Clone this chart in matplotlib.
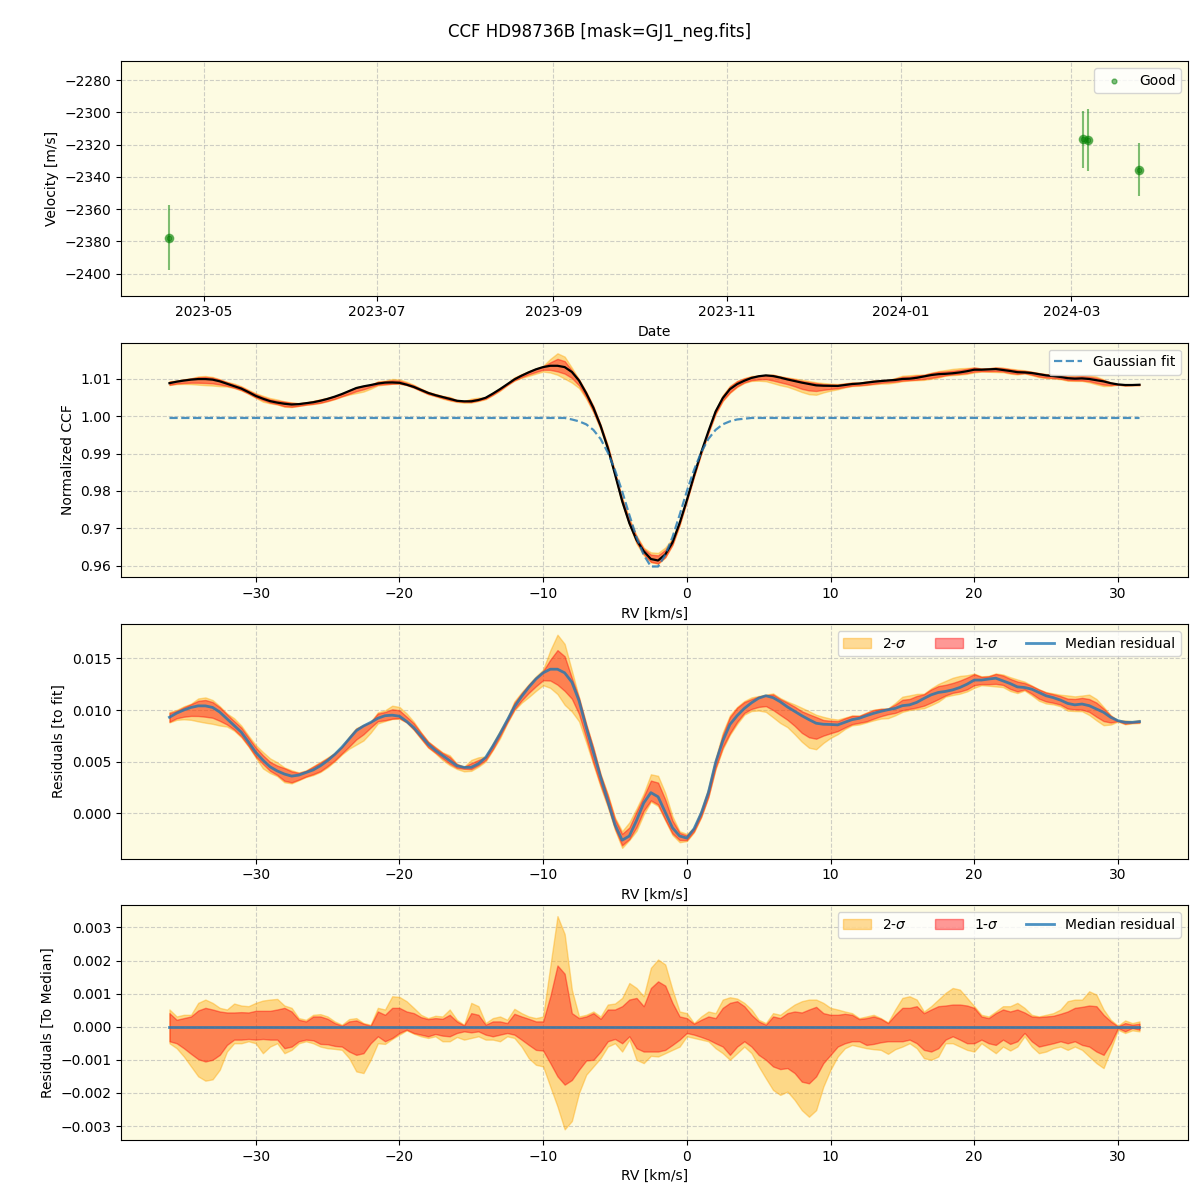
import numpy as np
import matplotlib
matplotlib.use('Agg')
import matplotlib.pyplot as plt
import matplotlib.dates as mdates
from datetime import datetime

# --- RV time series ---
obs_dates = ['2023-04-19', '2024-03-05', '2024-03-07', '2024-03-25']
obs_rv = [-2377.6, -2316.7, -2317.0, -2335.5]
obs_err = [19.9, 17.8, 19.4, 16.3]

# --- CCF grid (km/s) ---
rv_grid = np.arange(-36.0, 31.75, 0.5)

# gaussian fit
gauss_fit = ([0.9995] * 56 +
             [0.9991, 0.9986, 0.9978, 0.9963, 0.9939, 0.9903, 0.9856, 0.9799,
              0.9736, 0.9676, 0.9629, 0.9598, 0.9598, 0.9629, 0.9676, 0.9736,
              0.9799, 0.9856, 0.9903, 0.9939, 0.9963, 0.9978, 0.9986, 0.9991,
              0.9993] +
             [0.9995] * 55)

# median residual to fit (x1e-3)
res_median = [
    9.3, 9.7, 10.0, 10.25, 10.4, 10.4, 10.25, 9.8, 9.15, 8.5,
    7.85, 6.9, 5.9, 5.15, 4.5, 4.1, 3.8, 3.6, 3.7, 3.95,
    4.2, 4.6, 5.1, 5.7, 6.4, 7.2, 8.0, 8.45, 8.8, 9.2,
    9.45, 9.5, 9.4, 8.9, 8.3, 7.5, 6.7, 6.1, 5.6, 5.1,
    4.6, 4.45, 4.45, 4.8, 5.4, 6.5, 7.7, 9.0, 10.3, 11.3,
    12.2, 13.0, 13.6, 13.95, 13.95, 13.6, 12.7, 10.9, 8.3, 5.9,
    3.5, 1.2, -1.1, -2.6, -2.2, -0.7, 1.0, 2.0, 1.6, 0.1,
    -1.4, -2.2, -2.4, -1.5, 0.0, 2.0, 4.9, 7.0, 8.6, 9.45,
    10.15, 10.7, 11.15, 11.38, 11.2, 10.8, 10.3, 9.87, 9.45, 9.07,
    8.72, 8.62, 8.6, 8.56, 8.81, 9.07, 9.2, 9.45, 9.68, 9.87,
    10.03, 10.16, 10.42, 10.5, 10.74, 11.12, 11.47, 11.7, 11.8, 11.95,
    12.18, 12.5, 12.9, 12.9, 13.0, 13.08, 12.82, 12.56, 12.24, 12.18,
    12.02, 11.7, 11.38, 11.2, 10.96, 10.64, 10.5, 10.58, 10.42, 10.1,
    9.78, 9.29, 8.97, 8.81, 8.81, 8.88]

# spread around the median (x1e-3)
hi2 = [
    0.52, 0.31, 0.36, 0.36, 0.72, 0.82, 0.72, 0.57, 0.52, 0.70,
    0.64, 0.62, 0.72, 0.79, 0.82, 0.84, 0.64, 0.57, 0.26, 0.21,
    0.36, 0.38, 0.31, 0.16, 0.06, 0.23, 0.26, 0.11, 0.06, 0.57,
    0.52, 0.92, 0.90, 0.77, 0.57, 0.36, 0.26, 0.33, 0.31, 0.52,
    0.21, 0.06, 0.72, 0.62, 0.11, 0.26, 0.31, 0.21, 0.54, 0.41,
    0.31, 0.26, 0.31, 1.83, 3.34, 2.80, 1.12, 0.31, 0.36, 0.46,
    0.31, 0.67, 0.70, 0.87, 1.32, 1.17, 0.92, 1.78, 2.03, 1.88,
    1.12, 0.46, 0.41, 0.11, 0.31, 0.46, 0.41, 0.82, 0.89, 0.85,
    0.72, 0.52, 0.21, 0.11, 0.41, 0.36, 0.52, 0.67, 0.77, 0.82,
    0.82, 0.72, 0.57, 0.52, 0.46, 0.41, 0.26, 0.31, 0.36, 0.26,
    0.13, 0.52, 0.87, 0.92, 0.82, 0.46, 0.62, 0.82, 1.02, 1.17,
    1.12, 0.87, 0.62, 0.36, 0.31, 0.46, 0.62, 0.62, 0.72, 0.57,
    0.36, 0.31, 0.36, 0.41, 0.52, 0.77, 0.82, 0.82, 1.07, 0.97,
    0.52, 0.21, 0.03, 0.19, 0.11, 0.16]
hi1 = [
    0.41, 0.21, 0.26, 0.31, 0.49, 0.57, 0.52, 0.46, 0.43, 0.43,
    0.44, 0.43, 0.48, 0.48, 0.48, 0.52, 0.57, 0.46, 0.21, 0.16,
    0.31, 0.31, 0.24, 0.11, 0.03, 0.16, 0.19, 0.09, 0.03, 0.46,
    0.36, 0.57, 0.57, 0.46, 0.41, 0.29, 0.23, 0.26, 0.24, 0.36,
    0.16, 0.04, 0.41, 0.36, 0.06, 0.16, 0.16, 0.11, 0.39, 0.31,
    0.24, 0.16, 0.16, 0.92, 1.85, 1.60, 0.41, 0.26, 0.31, 0.41,
    0.24, 0.52, 0.52, 0.62, 0.82, 0.87, 0.62, 1.17, 1.37, 1.24,
    0.72, 0.31, 0.26, 0.09, 0.21, 0.31, 0.26, 0.57, 0.72, 0.77,
    0.62, 0.36, 0.16, 0.06, 0.31, 0.26, 0.41, 0.46, 0.43, 0.52,
    0.60, 0.41, 0.36, 0.36, 0.39, 0.36, 0.23, 0.26, 0.31, 0.24,
    0.11, 0.36, 0.57, 0.57, 0.62, 0.41, 0.52, 0.62, 0.64, 0.67,
    0.67, 0.64, 0.57, 0.31, 0.26, 0.41, 0.52, 0.46, 0.52, 0.43,
    0.31, 0.29, 0.31, 0.33, 0.39, 0.46, 0.57, 0.60, 0.64, 0.62,
    0.36, 0.16, 0.01, 0.11, 0.06, 0.09]
lo1 = [
    -0.44, -0.50, -0.65, -0.82, -0.98, -1.05, -1.00, -0.85, -0.55, -0.39,
    -0.39, -0.37, -0.39, -0.37, -0.39, -0.39, -0.65, -0.60, -0.44, -0.39,
    -0.41, -0.52, -0.53, -0.58, -0.60, -0.75, -0.85, -0.80, -0.50, -0.29,
    -0.44, -0.34, -0.19, -0.09, -0.19, -0.24, -0.29, -0.22, -0.27, -0.29,
    -0.19, -0.14, -0.17, -0.14, -0.24, -0.29, -0.24, -0.19, -0.24, -0.39,
    -0.55, -0.70, -0.72, -1.10, -1.50, -1.75, -1.61, -1.30, -1.02, -1.00,
    -0.75, -0.44, -0.37, -0.50, -0.29, -0.65, -0.75, -0.75, -0.75, -0.70,
    -0.55, -0.39, -0.19, -0.24, -0.31, -0.39, -0.50, -0.60, -0.85, -0.60,
    -0.44, -0.60, -0.85, -1.00, -1.20, -1.28, -1.25, -1.40, -1.66, -1.71,
    -1.50, -1.10, -0.85, -0.60, -0.50, -0.44, -0.44, -0.55, -0.52, -0.47,
    -0.44, -0.44, -0.44, -0.39, -0.50, -0.70, -0.75, -0.65, -0.39, -0.29,
    -0.39, -0.50, -0.50, -0.39, -0.50, -0.55, -0.39, -0.52, -0.44, -0.19,
    -0.44, -0.60, -0.55, -0.50, -0.44, -0.50, -0.44, -0.55, -0.60, -0.75,
    -0.85, -0.50, -0.04, -0.14, -0.04, -0.09]
lo2 = [
    -0.50, -0.65, -0.90, -1.20, -1.50, -1.63, -1.59, -1.30, -0.75, -0.50,
    -0.50, -0.44, -0.50, -0.80, -0.60, -0.50, -0.80, -0.70, -0.50, -0.44,
    -0.50, -0.60, -0.65, -0.67, -0.70, -0.95, -1.35, -1.40, -1.00, -0.50,
    -0.52, -0.37, -0.24, -0.11, -0.21, -0.29, -0.34, -0.29, -0.44, -0.44,
    -0.31, -0.39, -0.34, -0.29, -0.39, -0.39, -0.44, -0.29, -0.34, -0.60,
    -0.95, -1.15, -1.20, -1.81, -2.41, -3.10, -2.85, -2.00, -1.45, -1.20,
    -0.95, -0.60, -0.50, -0.75, -0.39, -1.00, -1.10, -0.88, -0.90, -0.80,
    -0.70, -0.60, -0.29, -0.34, -0.39, -0.44, -0.65, -0.80, -1.00, -0.80,
    -0.60, -0.80, -1.20, -1.56, -1.91, -2.06, -1.96, -2.21, -2.52, -2.72,
    -2.52, -1.81, -1.30, -0.90, -0.65, -0.55, -0.60, -0.65, -0.68, -0.70,
    -0.82, -0.68, -0.60, -0.50, -0.65, -0.95, -1.00, -0.90, -0.50, -0.50,
    -0.60, -0.70, -0.75, -0.50, -0.65, -0.80, -0.60, -0.72, -0.60, -0.29,
    -0.60, -0.80, -0.75, -0.65, -0.60, -0.70, -0.60, -0.70, -0.90, -1.10,
    -1.25, -0.70, -0.09, -0.19, -0.11, -0.14]

n = len(rv_grid)
assert all(len(a) == n for a in [gauss_fit, res_median, hi2, hi1, lo1, lo2]), \
    [len(a) for a in [rv_grid, gauss_fit, res_median, hi2, hi1, lo1, lo2]]

gauss = np.array(gauss_fit)
med = np.array(res_median) * 1e-3
h2, h1 = np.array(hi2) * 1e-3, np.array(hi1) * 1e-3
l1, l2 = np.array(lo1) * 1e-3, np.array(lo2) * 1e-3
ccf = gauss + med

bg = '#fdfbe2'
fig, axes = plt.subplots(4, 1, figsize=(12, 12), dpi=100)
fig.subplots_adjust(left=0.1008, right=0.99, top=0.949, bottom=0.05, hspace=0.2)
fig.suptitle('CCF HD98736B [mask=GJ1_neg.fits]', fontsize=12, y=0.981)

for ax in axes:
    ax.set_facecolor(bg)
    ax.grid(True, linestyle='--', alpha=0.6)
    ax.set_axisbelow(True)

# panel 1: velocities
ax = axes[0]
dates = [datetime.strptime(d, '%Y-%m-%d') for d in obs_dates]
ax.errorbar(dates, obs_rv, yerr=obs_err, fmt='o', color='green', alpha=0.5,
            ms=6, elinewidth=1.5, capsize=0)
ax.scatter(dates, obs_rv, s=12, color='green', alpha=0.5, label='Good', zorder=3)
ax.xaxis.set_major_locator(mdates.MonthLocator(bymonth=[1, 3, 5, 7, 9, 11]))
ax.xaxis.set_major_formatter(mdates.DateFormatter('%Y-%m'))
ax.set_ylim(-2413.7, -2268.2)
ax.set_xlabel('Date')
ax.set_ylabel('Velocity [m/s]')
ax.legend(loc='upper right')

# panel 2: CCF
ax = axes[1]
ax.fill_between(rv_grid, ccf + l2, ccf + h2, color='orange', alpha=0.4)
ax.fill_between(rv_grid, ccf + l1, ccf + h1, color='red', alpha=0.4)
ax.plot(rv_grid, ccf, color='black', lw=1.6)
ax.plot(rv_grid, gauss, '--', color='tab:blue', alpha=0.8, lw=1.6, label='Gaussian fit')
ax.set_xlabel('RV [km/s]')
ax.set_ylabel('Normalized CCF')
ax.legend(loc='upper right')

# panel 3: residuals to fit
ax = axes[2]
ax.fill_between(rv_grid, med + l2, med + h2, color='orange', alpha=0.4, label='2-$\\sigma$')
ax.fill_between(rv_grid, med + l1, med + h1, color='red', alpha=0.4, label='1-$\\sigma$')
ax.plot(rv_grid, med, color='tab:blue', alpha=0.8, lw=2, label='Median residual')
ax.set_xlabel('RV [km/s]')
ax.set_ylabel('Residuals [to fit]')
ax.legend(loc='upper right', ncol=3)

# panel 4: residuals to median
ax = axes[3]
zero = med - med
ax.fill_between(rv_grid, zero + l2, zero + h2, color='orange', alpha=0.4, label='2-$\\sigma$')
ax.fill_between(rv_grid, zero + l1, zero + h1, color='red', alpha=0.4, label='1-$\\sigma$')
ax.plot(rv_grid, zero, color='tab:blue', alpha=0.8, lw=2, label='Median residual')
ax.set_xlabel('RV [km/s]')
ax.set_ylabel('Residuals [To Median]')
ax.legend(loc='upper right', ncol=3)

fig.savefig('out.png', dpi=100)
